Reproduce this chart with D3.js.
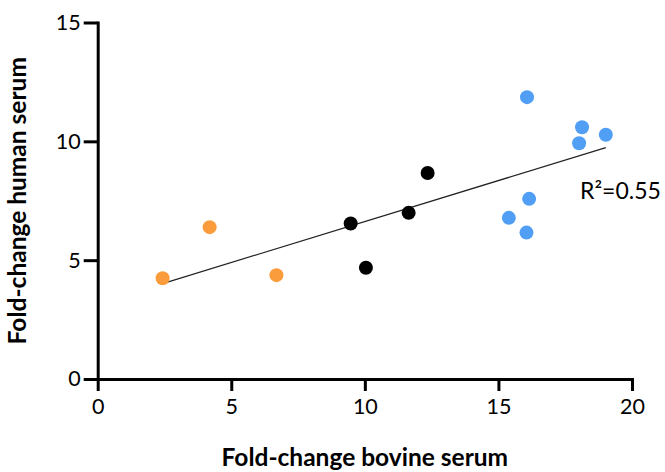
<!DOCTYPE html>
<html>
<head>
<meta charset="utf-8">
<script src="https://cdn.jsdelivr.net/npm/d3@7"></script>
<style>
  body { margin: 0; background: #fff; }
  svg { display: block; font-family: Lato, "Noto Sans", sans-serif; }
  .axis path, .axis line { stroke: #000; stroke-width: 3; }
  .axis text { font-size: 21.5px; fill: #000; font-family: Lato, sans-serif; }
  .title { font-size: 24.5px; font-weight: bold; fill: #000; }
</style>
</head>
<body>
<div id="chart"></div>
<script>
'use strict';

// groups of samples, fold-change bovine serum (x) vs human serum (y)
const orangeX = [2.43, 4.19, 6.69];
const orangeY = [4.24, 6.39, 4.37];
const blackX = [9.47, 10.04, 11.64, 12.35];
const blackY = [6.54, 4.68, 6.99, 8.67];
const blueX = [16.07, 18.13, 18.02, 19.02, 16.15, 15.39, 16.05];
const blueY = [11.86, 10.59, 9.92, 10.28, 7.58, 6.78, 6.16];

const xTicks = [0, 5, 10, 15, 20];
const yTicks = [0, 5, 10, 15];
const fitLabel = "R\u00B2=0.55";

const W = 665, H = 472;

const svg = d3.select("#chart")
	.append("svg")
	.attr("width", W)
	.attr("height", H);

const x = d3.scaleLinear().domain([0, 20]).range([97.7, 632]);
const y = d3.scaleLinear().domain([0, 15]).range([379, 22.5]);

const groups = [
	{ xs: orangeX, ys: orangeY, color: "#fb9c3c" },
	{ xs: blackX, ys: blackY, color: "#000000" },
	{ xs: blueX, ys: blueY, color: "#519ef5" }
];

// linear fit over all points
const allX = [].concat(orangeX, blackX, blueX);
const allY = [].concat(orangeY, blackY, blueY);
const mx = d3.mean(allX), my = d3.mean(allY);
const slope = d3.sum(allX, (v, i) => (v - mx) * (allY[i] - my)) / d3.sum(allX, v => (v - mx) * (v - mx));
const icpt = my - slope * mx;
const [x0, x1] = d3.extent(allX);

// axes
svg.append("g")
	.attr("class", "axis")
	.attr("transform", `translate(0,${y(0)})`)
	.call(d3.axisBottom(x).tickValues(xTicks).tickSize(12).tickSizeOuter(0).tickPadding(8))
	.call(g => g.selectAll("text").attr("dy", "0.71em"));

svg.append("g")
	.attr("class", "axis")
	.attr("transform", `translate(${x(0)},0)`)
	.call(d3.axisLeft(y).tickValues(yTicks).tickSize(14).tickSizeOuter(0).tickPadding(3));

svg.selectAll(".axis .domain").attr("stroke-linecap", "square");

// fit line
svg.append("line")
	.attr("x1", x(x0)).attr("y1", y(icpt + slope * x0))
	.attr("x2", x(x1)).attr("y2", y(icpt + slope * x1))
	.attr("stroke", "#222")
	.attr("stroke-width", 1.2);

// points
groups.forEach(gr => {
	svg.append("g")
		.selectAll("circle")
		.data(gr.xs.map((v, i) => [v, gr.ys[i]]))
		.join("circle")
		.attr("cx", d => x(d[0]))
		.attr("cy", d => y(d[1]))
		.attr("r", 7)
		.attr("fill", gr.color);
});

svg.append("text")
	.attr("x", 580)
	.attr("y", 198.5)
	.attr("font-size", 23)
	.attr("fill", "#000")
	.text(fitLabel);

// axis titles
svg.append("text")
	.attr("class", "title")
	.attr("text-anchor", "middle")
	.attr("x", (x(0) + x(20)) / 2)
	.attr("y", 466)
	.text("Fold-change bovine serum");

svg.append("text")
	.attr("class", "title")
	.attr("text-anchor", "middle")
	.attr("transform", `translate(26,${(y(0) + y(15)) / 2}) rotate(-90)`)
	.text("Fold-change human serum");
</script>
</body>
</html>
